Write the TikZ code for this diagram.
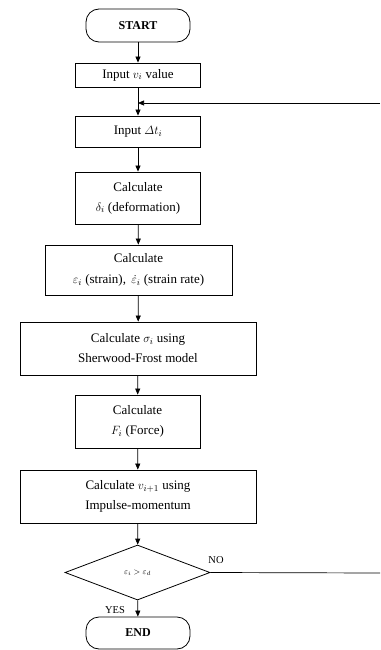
\documentclass[tikz,border=0pt]{standalone}
\usepackage{amsmath}
\usepackage{fontspec}
\setmainfont{Liberation Serif}
\usetikzlibrary{arrows.meta,shapes.geometric}
\newcommand{\fsmain}{\fontsize{13}{20}\selectfont}
\tikzset{
  box/.style={draw, line width=0.8pt, inner sep=0pt, align=center, font=\fsmain},
  term/.style={draw, line width=0.8pt, rounded corners=13pt, inner sep=0pt, font=\fontsize{12}{14}\selectfont\bfseries, minimum width=104pt, minimum height=33pt},
  dec/.style={draw, line width=0.8pt, diamond, inner sep=0pt, aspect=2.64, minimum width=145pt, minimum height=55pt, font=\fontsize{8}{10}\selectfont},
  arr/.style={line width=0.7pt, -{Triangle[length=6pt,width=5pt]}},
  ln/.style={line width=0.7pt},
  lab/.style={font=\fontsize{10.5}{12}\selectfont, inner sep=0pt}
}
\begin{document}
\begin{tikzpicture}[x=1pt,y=-1pt]
\useasboundingbox (0,0) rectangle (380,650);
\node[term] (start) at (138,25.5) {START};
\node[box, minimum width=125pt, minimum height=24pt] (in1) at (138,75) {Input $v_i$ value};
\node[box, minimum width=125pt, minimum height=31pt] (in2) at (138,131.5) {Input $\varDelta t_i$};
\node[box, minimum width=125pt, minimum height=52pt] (def) at (138,198) {Calculate\\$\delta_i$ (deformation)};
\node[box, minimum width=187pt, minimum height=50pt] (eps) at (138.5,270) {Calculate\\[1pt]$\varepsilon_i$ (strain),\, $\dot{\varepsilon}_i$ (strain rate)};
\node[box, minimum width=236pt, minimum height=53pt] (sig) at (138,348.5) {Calculate $\sigma_i$ using\\Sherwood-Frost model};
\node[box, minimum width=125pt, minimum height=53pt] (frc) at (137.5,421.5) {Calculate\\$F_i$ (Force)};
\node[box, minimum width=236pt, minimum height=53pt] (imp) at (138,496.5) {Calculate $v_{i+1}$ using\\Impulse-momentum};
\node[dec] (dia) at (137.5,572.5) {$\varepsilon_i > \varepsilon_d$};
\node[term, minimum height=32pt] (end) at (138,633) {END};
\coordinate (j) at (138,103);
\coordinate (loopB) at (380,573);
\coordinate (loopT) at (380,103);
\node[lab] (no) at (216,560) {NO};
\node[lab] (yes) at (115,610) {YES};
\draw[arr] (start) -- (in1);
\draw[arr] (in1) -- (in2);
\draw[arr] (in2) -- (def);
\draw[arr] (def) -- (eps);
\draw[arr] (eps) -- (sig);
\draw[arr] (sig) -- (frc);
\draw[arr] (frc) -- (imp);
\draw[arr] (imp) -- (dia);
\draw[arr] (dia) -- (end);
\draw[ln] (dia.east) -- (loopB);
\draw[arr] (loopT) -- (j);
\end{tikzpicture}
\end{document}
